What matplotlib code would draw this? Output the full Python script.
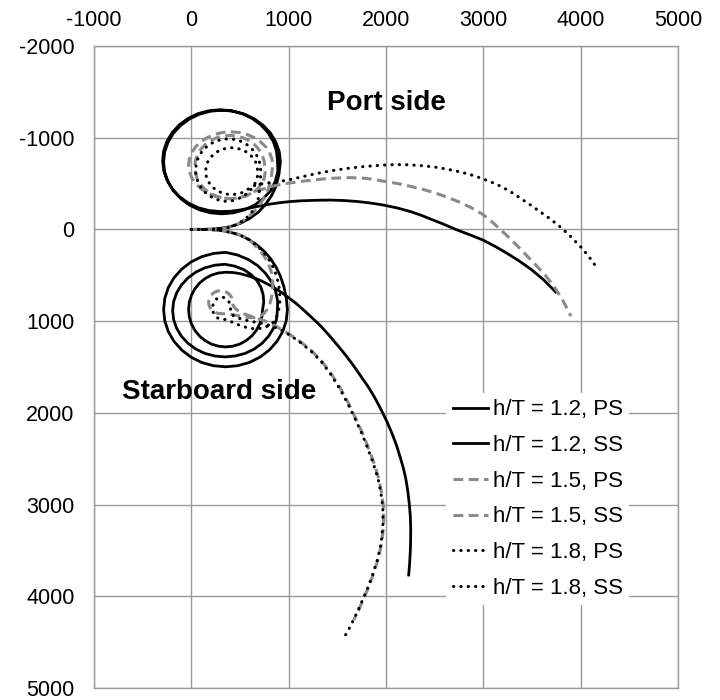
import numpy as np
import matplotlib.pyplot as plt

plt.rcParams['font.family'] = ['Liberation Sans', 'DejaVu Sans']
plt.rcParams['axes.unicode_minus'] = False

# trajectories (x, y) in m, y positive to starboard
ps12 = [(0, 0), (100, 0), (200, -3), (300, -12), (400, -30), (500, -65), (600, -120),
        (690, -190), (760, -270), (825, -370), (870, -470), (900, -600), (915, -735),
        (904, -845), (869, -951), (814, -1049), (739, -1134), (649, -1205), (545, -1257),
        (432, -1289), (315, -1300), (198, -1289), (85, -1257), (-19, -1205), (-109, -1134),
        (-184, -1049), (-239, -951), (-274, -845), (-285, -735), (-274, -625), (-239, -519),
        (-184, -421), (-109, -336), (-19, -265), (85, -213), (198, -181), (315, -170),
        (432, -181), (545, -213), (649, -265), (739, -336), (814, -421), (862, -524),
        (889, -634), (885, -750), (874, -858), (840, -963), (785, -1059), (712, -1142),
        (623, -1211), (521, -1263), (410, -1294), (295, -1305), (180, -1294), (69, -1263),
        (-33, -1211), (-122, -1142), (-195, -1059), (-250, -963), (-284, -858), (-295, -750),
        (-284, -642), (-250, -537), (-195, -441), (-122, -358), (-33, -289), (69, -237),
        (180, -206), (295, -195), (400, -198), (500, -212), (610, -235), (714, -258),
        (820, -278), (920, -293), (1020, -304), (1125, -312), (1280, -318), (1433, -320),
        (1570, -315), (1700, -305), (1840, -288), (1978, -265), (2120, -233), (2250, -195),
        (2360, -155), (2461, -112), (2590, -58), (2717, 0), (2860, 58), (2995, 115),
        (3130, 190), (3250, 265), (3370, 345), (3489, 434), (3620, 550), (3745, 684)]

ss12 = [(0, 0), (100, 0), (200, 2), (300, 10), (400, 30), (500, 62), (590, 110), (675, 170),
        (750, 240), (815, 320), (870, 410), (915, 510), (950, 620), (975, 745), (987, 874),
        (975, 996), (939, 1113), (880, 1221), (801, 1315), (705, 1393), (595, 1451),
        (475, 1486), (351, 1498), (227, 1486), (107, 1451), (-3, 1393), (-99, 1315),
        (-178, 1221), (-237, 1113), (-273, 996), (-285, 874), (-273, 752), (-237, 635),
        (-178, 527), (-99, 433), (-3, 355), (107, 297), (227, 262), (351, 250), (472, 278),
        (584, 327), (683, 396), (764, 481), (826, 575), (867, 678), (887, 783), (884, 885),
        (874, 983), (843, 1078), (793, 1166), (726, 1242), (645, 1305), (552, 1352),
        (451, 1380), (346, 1390), (241, 1380), (140, 1352), (47, 1305), (-34, 1242),
        (-101, 1166), (-151, 1078), (-182, 983), (-192, 885), (-182, 787), (-151, 692),
        (-101, 604), (-34, 528), (47, 465), (140, 418), (241, 390), (346, 380), (448, 401),
        (539, 438), (614, 492), (674, 557), (715, 631), (738, 712), (744, 794), (732, 874),
        (725, 953), (703, 1030), (668, 1100), (621, 1162), (563, 1212), (498, 1250),
        (426, 1273), (352, 1281), (278, 1273), (206, 1250), (141, 1212), (83, 1162),
        (36, 1100), (1, 1030), (-21, 953), (-28, 874), (-21, 795), (1, 718), (36, 648),
        (83, 586), (141, 536), (206, 498), (278, 475), (352, 467), (430, 470), (500, 482),
        (575, 503), (650, 530), (725, 564), (800, 605), (900, 668), (992, 738), (1080, 810),
        (1160, 885), (1245, 968), (1329, 1053), (1420, 1160), (1500, 1260), (1585, 1370),
        (1668, 1488), (1745, 1605), (1820, 1720), (1885, 1835), (1945, 1955), (2005, 2085),
        (2060, 2220), (2110, 2360), (2150, 2498), (2180, 2610), (2203, 2715), (2225, 2860),
        (2240, 3000), (2250, 3130), (2254, 3258), (2253, 3380), (2250, 3500), (2243, 3640),
        (2233, 3768)]

ps15 = [(0, 0), (100, 0), (200, 0), (290, -6), (380, -20), (470, -55), (550, -110),
        (625, -175), (690, -250), (745, -340), (790, -440), (820, -560), (836, -700),
        (828, -771), (803, -839), (763, -902), (709, -957), (644, -1002), (569, -1036),
        (488, -1057), (404, -1064), (320, -1057), (239, -1036), (164, -1002), (99, -957),
        (45, -902), (5, -839), (-20, -771), (-28, -700), (-20, -629), (5, -561), (45, -498),
        (99, -443), (164, -398), (239, -364), (320, -343), (404, -336), (485, -343),
        (560, -363), (626, -396), (680, -440), (720, -492), (747, -551), (758, -615),
        (755, -680), (748, -747), (728, -812), (694, -872), (650, -924), (595, -967),
        (533, -999), (465, -1018), (395, -1025), (325, -1018), (257, -999), (195, -967),
        (140, -924), (96, -872), (62, -812), (42, -747), (35, -680), (42, -613), (62, -548),
        (96, -488), (140, -436), (195, -393), (257, -361), (325, -342), (395, -335),
        (465, -342), (533, -361), (610, -390), (680, -420), (750, -445), (815, -467),
        (900, -487), (1000, -505), (1160, -528), (1329, -548), (1470, -559), (1607, -565),
        (1700, -563), (1800, -556), (1890, -542), (1977, -525), (2120, -500), (2250, -470),
        (2375, -438), (2493, -402), (2625, -353), (2750, -300), (2875, -237), (2995, -163),
        (3090, -82), (3180, 5), (3270, 95), (3355, 185), (3450, 290), (3550, 400),
        (3640, 505), (3725, 619), (3815, 770), (3899, 945)]

ss15 = [(0, 0), (100, 0), (198, 0), (290, 8), (383, 22), (470, 48), (558, 87), (630, 145),
        (692, 217), (750, 295), (795, 380), (825, 475), (836, 576), (835, 660), (825, 738),
        (807, 810), (780, 870), (745, 918), (700, 950), (645, 962), (590, 960), (535, 952),
        (480, 940), (430, 930), (384, 924), (340, 920), (301, 918), (277, 916), (254, 908),
        (233, 897), (214, 881), (199, 863), (187, 841), (180, 817), (178, 793), (180, 769),
        (187, 745), (199, 723), (214, 705), (233, 689), (254, 678), (277, 670), (301, 668),
        (325, 670), (348, 678), (369, 689), (388, 705), (403, 723), (415, 745), (422, 769),
        (424, 793), (427, 820), (440, 848), (465, 875), (500, 900), (540, 920), (595, 940),
        (650, 960), (705, 980), (760, 1000), (840, 1038), (918, 1086), (1020, 1150),
        (1123, 1227), (1230, 1318), (1329, 1423), (1435, 1570), (1535, 1738), (1615, 1895),
        (1689, 2063), (1760, 2225), (1822, 2389), (1878, 2550), (1925, 2715), (1955, 2875),
        (1976, 3041), (1975, 3230), (1956, 3421), (1918, 3600), (1863, 3779), (1815, 3915),
        (1760, 4051), (1715, 4160), (1668, 4257)]

ps18 = [(0, 0), (100, 0), (200, 0), (290, -6), (380, -20), (460, -50), (540, -100),
        (600, -160), (650, -230), (685, -320), (700, -420), (710, -530), (712, -646),
        (706, -713), (687, -777), (656, -836), (614, -888), (564, -930), (506, -962),
        (443, -981), (378, -988), (313, -981), (250, -962), (192, -930), (142, -888),
        (100, -836), (69, -777), (50, -713), (44, -646), (50, -579), (69, -515), (100, -456),
        (142, -404), (192, -362), (250, -330), (313, -311), (378, -304), (446, -320),
        (509, -347), (563, -385), (608, -430), (644, -479), (668, -532), (680, -584),
        (681, -635), (676, -685), (661, -733), (636, -777), (603, -815), (562, -847),
        (516, -871), (466, -885), (414, -890), (362, -885), (312, -871), (266, -847),
        (225, -815), (192, -777), (167, -733), (152, -685), (147, -635), (152, -585),
        (167, -537), (192, -493), (225, -455), (266, -423), (312, -399), (362, -385),
        (414, -380), (466, -385), (516, -399), (562, -423), (603, -455), (650, -478),
        (733, -500), (825, -512), (918, -525), (1010, -543), (1100, -565), (1215, -593),
        (1329, -619), (1470, -645), (1607, -666), (1775, -686), (1945, -700), (2075, -706),
        (2200, -706), (2350, -697), (2500, -680), (2625, -658), (2750, -630), (2865, -598),
        (2974, -560), (3080, -517), (3180, -470), (3270, -418), (3355, -358), (3480, -270),
        (3600, -180), (3700, -105), (3797, -22), (3900, 80), (4000, 190), (4080, 290),
        (4156, 402)]

ss18 = [(0, 0), (100, 0), (198, 0), (300, 12), (404, 33), (500, 62), (589, 109), (665, 170),
        (733, 239), (790, 318), (836, 402), (872, 498), (897, 597), (908, 695), (908, 793),
        (898, 878), (877, 956), (843, 1010), (795, 1050), (735, 1075), (661, 1085),
        (585, 1075), (507, 1050), (440, 1020), (384, 995), (345, 982), (311, 977), (293, 975),
        (275, 968), (259, 957), (245, 942), (234, 924), (225, 904), (220, 881), (218, 858),
        (220, 835), (225, 812), (234, 792), (245, 774), (259, 759), (275, 748), (293, 741),
        (311, 739), (329, 741), (347, 748), (363, 759), (377, 774), (388, 792), (397, 812),
        (402, 835), (404, 858), (402, 881), (405, 905), (420, 930), (445, 950), (480, 965),
        (540, 985), (600, 1000), (665, 1012), (733, 1025), (830, 1055), (918, 1095),
        (1020, 1158), (1123, 1235), (1230, 1328), (1329, 1432), (1432, 1580), (1530, 1745),
        (1610, 1905), (1685, 2070), (1755, 2232), (1815, 2395), (1870, 2555), (1918, 2715),
        (1948, 2875), (1968, 3041), (1968, 3230), (1950, 3421), (1912, 3600), (1858, 3779),
        (1810, 3915), (1755, 4051), (1710, 4160), (1665, 4260), (1625, 4345), (1585, 4420)]

tracks = [ps12, ss12, ps15, ss15, ps18, ss18]
labels = ['h/T = 1.2, PS', 'h/T = 1.2, SS', 'h/T = 1.5, PS',
          'h/T = 1.5, SS', 'h/T = 1.8, PS', 'h/T = 1.8, SS']

solid = dict(color='black', lw=2.0, ls='-')
dashed = dict(color='#8a8a8a', lw=2.2, ls=(0, (3.2, 1.8)))
dotted = dict(color='black', lw=2.2, ls=(0, (0.1, 2.3)), dash_capstyle='round')
styles = [solid, solid, dashed, dashed, dotted, dotted]

fig = plt.figure(figsize=(7.2, 7.0), dpi=100)
ax = fig.add_axes([94 / 720, 12 / 700, 584 / 720, 642 / 700])

for tr, lab, st in zip(tracks, labels, styles):
    xy = np.array(tr)
    ax.plot(xy[:, 0], xy[:, 1], label=lab, solid_joinstyle='round', **st)

ax.set_xlim(-1000, 5000)
ax.set_ylim(5000, -2000)
ax.set_xticks(np.arange(-1000, 5001, 1000))
ax.set_yticks(np.arange(-2000, 5001, 1000))
ax.xaxis.tick_top()
ax.tick_params(length=0, labelsize=15.5)
ax.tick_params(axis='x', pad=11)
ax.tick_params(axis='y', pad=14)
ax.grid(True, color='#9a9a9a', lw=1.0)
ax.set_axisbelow(True)
for sp in ax.spines.values():
    sp.set_color('#9a9a9a')
    sp.set_linewidth(1.0)

ax.text(2008, -1380, 'Port side', fontsize=20, fontweight='bold', ha='center', va='center')
ax.text(281, 1775, 'Starboard side', fontsize=20, fontweight='bold', ha='center', va='center')

leg = ax.legend(loc='upper left', bbox_to_anchor=(0.6027, 0.46), borderaxespad=0,
                fontsize=16, frameon=True, fancybox=False, edgecolor='none',
                facecolor='white', framealpha=1, handlelength=1.6, handletextpad=0.2,
                labelspacing=0.66, borderpad=0.3)

fig.savefig('out.png', dpi=100)
